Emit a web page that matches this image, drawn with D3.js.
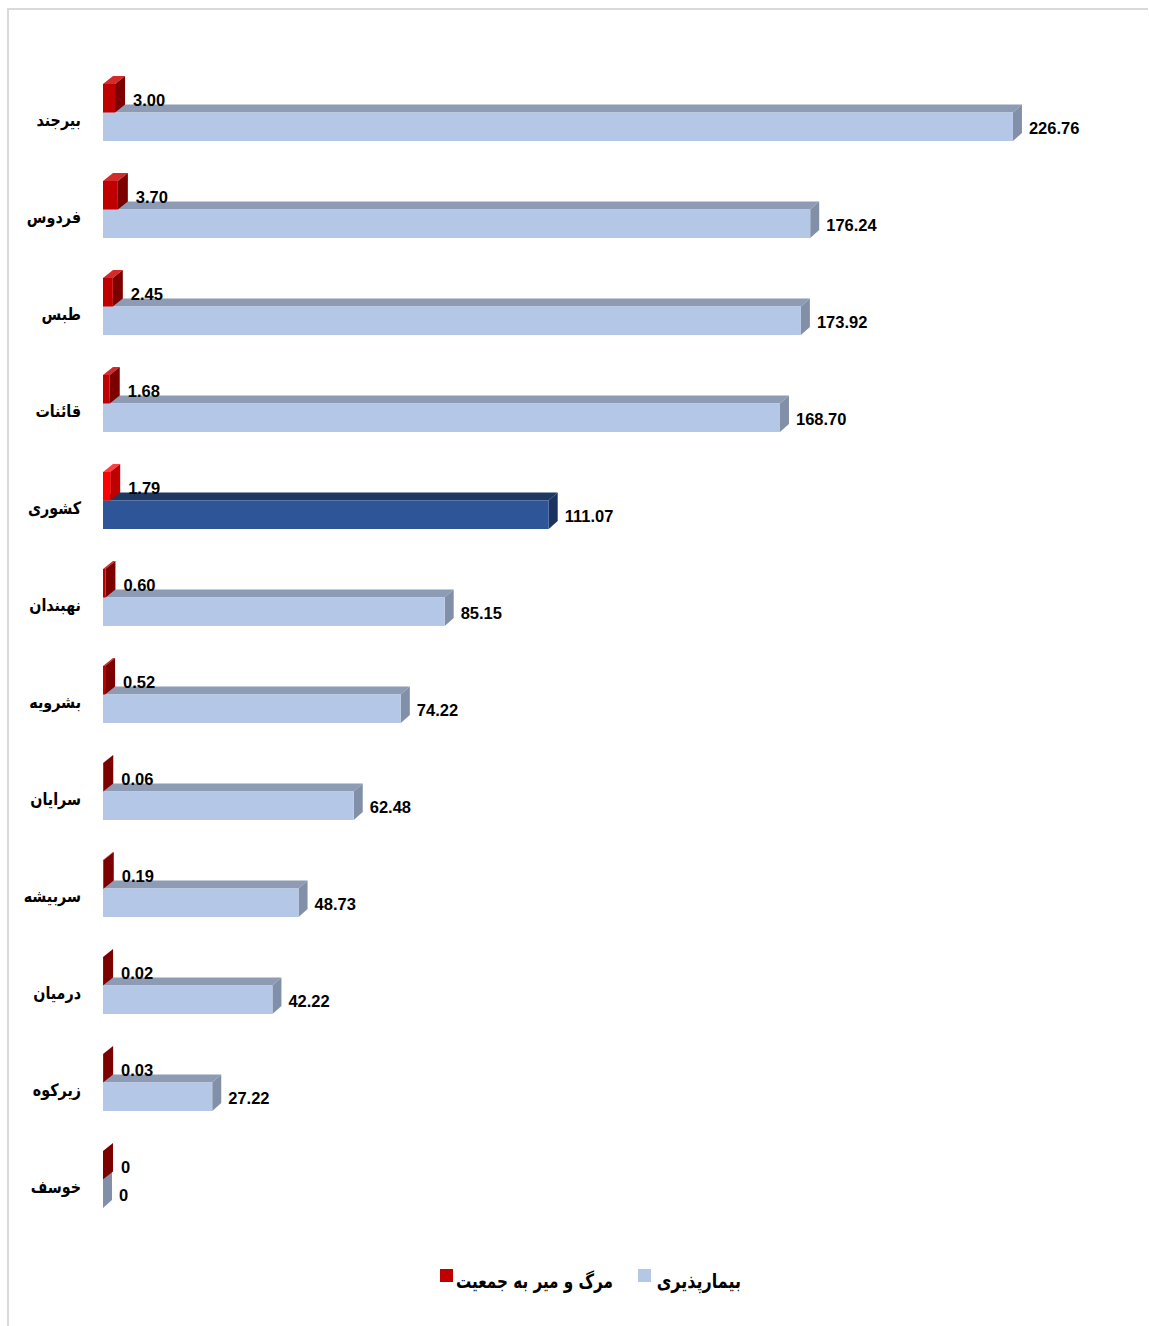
<!DOCTYPE html>
<html>
<head>
<meta charset="utf-8">
<script src="https://cdn.jsdelivr.net/npm/d3@7"></script>
<style>
  html, body { margin: 0; padding: 0; background: #fff; }
  svg { display: block; }
  text { font-family: "Liberation Sans", "DejaVu Sans", sans-serif; font-weight: bold; fill: #000; }
  .cat { font-family: "DejaVu Sans", "Noto Sans", sans-serif; }
</style>
</head>
<body>
<svg id="chart" width="1149" height="1326"></svg>
<script>
const categories = ["بیرجند","فردوس","طبس","قائنات","کشوری","نهبندان","بشرویه","سرایان","سربیشه","درمیان","زیرکوه","خوسف"];
const hospitalization = [226.76,176.24,173.92,168.70,111.07,85.15,74.22,62.48,48.73,42.22,27.22,0];
const mortality = [3.00,3.70,2.45,1.68,1.79,0.60,0.52,0.06,0.19,0.02,0.03,0];
const seriesNames = ["بیمارپذیری","مرگ و میر به جمعیت"];
const highlight = "کشوری";

const svg = d3.select("#chart");

// frame
svg.append("path").attr("d", `M8,1326 L8,9 L1148,9`).attr("fill","none")
  .attr("stroke","#d9d9d9").attr("stroke-width",2);

const x = d3.scaleLinear().domain([0, 250]).range([103, 1106.2]);
const y = d3.scaleBand().domain(categories).range([64, 1228]).paddingInner(40/97).paddingOuter(20/97);
const sub = d3.scaleBand().domain(["mort","hosp"]).range([0, y.bandwidth()]);
const dx = 9, dy = -8;

const colors = {
  hosp: {front:"#b4c7e7", top:"#8d9cb4", side:"#8190a8"},
  hospH: {front:"#2f5597", top:"#1f3864", side:"#1c3360"},
  mort: {front:"#c00000", top:"#d42a2a", side:"#7d0000"},
  mortH: {front:"#ff0000", top:"#ff4040", side:"#c00000"}
};

const defs = svg.append("defs");
const f = defs.append("filter").attr("id","soft").attr("x","-5%").attr("y","-20%").attr("width","110%").attr("height","140%");
f.append("feGaussianBlur").attr("in","SourceGraphic").attr("stdDeviation",0.6);

function bar3d(g, v, yTop, h, c, ddx) {
  const x0 = x(0), x1 = x(v);
  g.append("polygon").attr("points", [[x0,yTop],[x1,yTop],[x1+ddx,yTop+dy],[x0+ddx,yTop+dy]].join(" "))
    .attr("fill", c.top).attr("filter","url(#soft)");
  g.append("polygon").attr("points", [[x1,yTop],[x1+ddx,yTop+dy],[x1+ddx,yTop+h+dy],[x1,yTop+h]].join(" "))
    .attr("fill", c.side).attr("filter","url(#soft)");
  g.append("rect").attr("x", x0).attr("y", yTop).attr("width", Math.max(0, x1-x0)).attr("height", h)
    .attr("fill", c.front).attr("filter","url(#soft)");
}

const fmt = v => v === 0 ? "0" : v.toFixed(2);

function squeeze(sel, k) {
  sel.each(function() {
    const w = this.getComputedTextLength();
    d3.select(this).attr("textLength", w * k).attr("lengthAdjust", "spacingAndGlyphs");
  });
}

categories.forEach((cat, i) => {
  const g = svg.append("g");
  const isH = cat === highlight;
  const by = y(cat) + sub("hosp"), bh = sub.bandwidth();
  const ry = y(cat) + sub("mort");
  bar3d(g, hospitalization[i], by, bh, isH ? colors.hospH : colors.hosp, dx);
  bar3d(g, mortality[i], ry, bh, isH ? colors.mortH : colors.mort, dx + 1);
  g.append("text").attr("x", x(hospitalization[i]) + dx + 7).attr("y", by + bh/2 + 3)
    .attr("dominant-baseline","middle").attr("font-size",16.5).text(fmt(hospitalization[i]));
  g.append("text").attr("x", x(mortality[i]) + dx + 9).attr("y", ry + bh/2 + 3)
    .attr("dominant-baseline","middle").attr("font-size",16.5).text(fmt(mortality[i]));
  g.append("text").attr("class","cat").attr("x", 81).attr("y", y(cat) + y.bandwidth()/2 + 8)
    .attr("text-anchor","end").attr("dominant-baseline","middle").attr("font-size",17).text(cat)
    .call(squeeze, 0.84);
});

// legend
const leg = svg.append("g");
leg.append("rect").attr("x",638).attr("y",1269).attr("width",13).attr("height",13).attr("fill",colors.hosp.front);
leg.append("text").attr("class","cat").attr("x",741).attr("y",1282).attr("text-anchor","end")
  .attr("dominant-baseline","middle").attr("font-size",20).text(seriesNames[0]).call(squeeze, 0.8);
leg.append("rect").attr("x",440).attr("y",1269).attr("width",13).attr("height",13).attr("fill",colors.mort.front);
leg.append("text").attr("class","cat").attr("x",613).attr("y",1282).attr("text-anchor","end")
  .attr("dominant-baseline","middle").attr("font-size",20).text(seriesNames[1]).call(squeeze, 0.76);
</script>
</body>
</html>
